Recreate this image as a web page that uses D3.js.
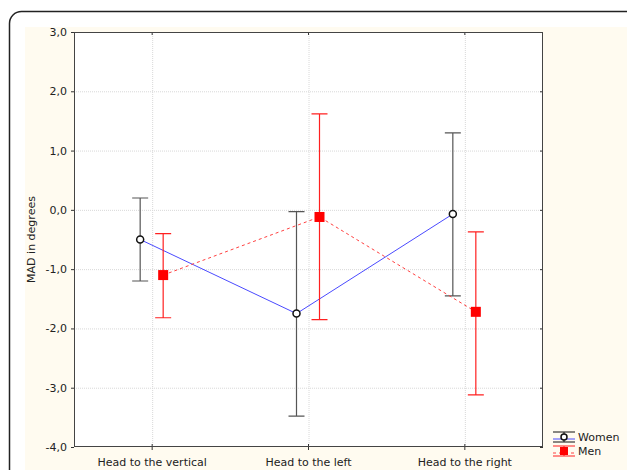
<!DOCTYPE html>
<html>
<head>
<meta charset="utf-8">
<script src="https://cdn.jsdelivr.net/npm/d3@7"></script>
<style>
  body { margin: 0; background: #fff; }
  text { font-family: "DejaVu Sans", Verdana, sans-serif; font-size: 11px; fill: #222; }
</style>
</head>
<body>
<script>
// categories and series values (MAD in degrees)
const categories = ["Head to the vertical", "Head to the left", "Head to the right"];
const womenMean = [-0.5, -1.75, -0.07];
const womenLow = [-1.2, -3.48, -1.45];
const womenHigh = [0.2, -0.03, 1.3];
const menMean = [-1.1, -0.12, -1.72];
const menLow = [-1.82, -1.85, -3.12];
const menHigh = [-0.4, 1.62, -0.37];
const yTicks = [3, 2, 1, 0, -1, -2, -3, -4];

const W = 627, H = 470;
const plot = { left: 74, right: 543, top: 32, bottom: 447 };

const svg = d3.select("body").append("svg")
  .attr("width", W).attr("height", H);

// outer rounded frame and cream panel
svg.append("rect")
  .attr("x", 9.5).attr("y", 11.5)
  .attr("width", W + 30).attr("height", H + 30)
  .attr("rx", 12)
  .attr("fill", "#fff").attr("stroke", "#222").attr("stroke-width", 1.5);
svg.append("rect")
  .attr("x", 25).attr("y", 27)
  .attr("width", W - 25).attr("height", H - 27)
  .attr("fill", "#fffbf0");

const x = d3.scaleBand().domain(categories).range([plot.left, plot.right]);
const y = d3.scaleLinear().domain([-4, 3]).range([plot.bottom, plot.top]);
const cx = c => x(c) + x.bandwidth() / 2;

// plot area
svg.append("rect")
  .attr("x", plot.left).attr("y", plot.top)
  .attr("width", plot.right - plot.left).attr("height", plot.bottom - plot.top)
  .attr("fill", "#fff");

// grid
const grid = svg.append("g").attr("stroke", "#d8d8d8").attr("stroke-dasharray", "1,1");
grid.selectAll(".gy").data(yTicks.slice(1, -1)).enter().append("line")
  .attr("x1", plot.left).attr("x2", plot.right)
  .attr("y1", d => y(d) + 0.5).attr("y2", d => y(d) + 0.5);
grid.selectAll(".gx").data(categories).enter().append("line")
  .attr("y1", plot.top).attr("y2", plot.bottom)
  .attr("x1", d => cx(d) + 0.5).attr("x2", d => cx(d) + 0.5);

// axes
const yAxis = d3.axisLeft(y).tickValues(yTicks).tickSize(3).tickPadding(4)
  .tickFormat(d => d3.format(".1f")(d).replace(".", ",").replace("−", "-"));
svg.append("g").attr("transform", `translate(${plot.left},0)`).call(yAxis)
  .call(g => g.select(".domain").remove());
svg.append("g").attr("transform", `translate(${plot.right},0)`)
  .call(d3.axisLeft(y).tickValues(yTicks).tickSize(3).tickFormat(""))
  .call(g => g.select(".domain").remove());

const xAxis = d3.axisBottom(x).tickSize(3).tickPadding(8);
svg.append("g").attr("transform", `translate(0,${plot.bottom})`).call(d3.axisTop(x).tickSize(3).tickFormat(""))
  .call(g => g.select(".domain").remove());
svg.append("g").attr("transform", `translate(0,${plot.bottom})`).call(xAxis)
  .call(g => g.select(".domain").remove());
svg.append("g").attr("transform", `translate(0,${plot.top})`).call(d3.axisBottom(x).tickSize(3).tickFormat(""))
  .call(g => g.select(".domain").remove());
svg.selectAll(".tick line").attr("stroke", "#333");
svg.selectAll(".tick text").style("font-size", "11px").attr("fill", "#222")
  .style("font-family", "'DejaVu Sans', Verdana, sans-serif");

svg.append("rect")
  .attr("x", plot.left + 0.5).attr("y", plot.top + 0.5)
  .attr("width", plot.right - plot.left - 1).attr("height", plot.bottom - plot.top - 1)
  .attr("fill", "none").attr("stroke", "#444");

svg.append("text")
  .attr("transform", `translate(35,${(plot.top + plot.bottom) / 2}) rotate(-90)`)
  .attr("text-anchor", "middle")
  .text("MAD in degrees");

// series
const series = [
  { name: "Women", mean: womenMean, low: womenLow, high: womenHigh, dx: -12,
    line: "#4a4aff", bar: "#555", dash: null },
  { name: "Men", mean: menMean, low: menLow, high: menHigh, dx: 11,
    line: "#ff4040", bar: "#ff2020", dash: "3,3" }
];

series.forEach(s => {
  const pts = categories.map((c, i) => ({ x: cx(c) + s.dx, m: s.mean[i], lo: s.low[i], hi: s.high[i] }));
  const g = svg.append("g");
  g.append("path")
    .datum(pts)
    .attr("fill", "none").attr("stroke", s.line).attr("stroke-width", 1)
    .attr("stroke-dasharray", s.dash)
    .attr("d", d3.line().x(d => d.x).y(d => y(d.m)));
  g.selectAll(".eb").data(pts).enter().append("path")
    .attr("fill", "none").attr("stroke", s.bar).attr("stroke-width", 1.2)
    .attr("d", d => `M${d.x},${y(d.lo)}V${y(d.hi)}M${d.x - 8},${y(d.lo)}H${d.x + 8}M${d.x - 8},${y(d.hi)}H${d.x + 8}`);
  if (s.name === "Women") {
    g.selectAll(".mk").data(pts).enter().append("circle")
      .attr("cx", d => d.x).attr("cy", d => y(d.m)).attr("r", 3.5)
      .attr("fill", "#fff").attr("stroke", "#111").attr("stroke-width", 1.5);
  } else {
    g.selectAll(".mk").data(pts).enter().append("rect")
      .attr("x", d => d.x - 5).attr("y", d => y(d.m) - 5)
      .attr("width", 10).attr("height", 10).attr("fill", "#ff0000");
  }
});

// legend
const leg = svg.append("g").attr("transform", "translate(564,437)");
series.forEach((s, i) => {
  const g = leg.append("g").attr("transform", `translate(0,${i * 14})`);
  const c = s.name === "Women" ? "#111" : "#ff2020";
  g.append("line").attr("x1", -11).attr("x2", 11).attr("y1", -5).attr("y2", -5).attr("stroke", c);
  g.append("line").attr("x1", -11).attr("x2", 11).attr("y1", 5).attr("y2", 5).attr("stroke", c);
  g.append("line").attr("x1", -11).attr("x2", 11).attr("y1", 2).attr("y2", 2)
    .attr("stroke", s.line).attr("stroke-dasharray", s.dash);
  g.append("line").attr("x1", 0).attr("x2", 0).attr("y1", -5).attr("y2", 5).attr("stroke", c);
  if (s.name === "Women") {
    g.append("circle").attr("r", 3).attr("fill", "#fff").attr("stroke", "#111").attr("stroke-width", 1.5);
  } else {
    g.append("rect").attr("x", -4).attr("y", -4).attr("width", 8).attr("height", 8).attr("fill", "#ff0000");
  }
  g.append("text").attr("x", 14).attr("y", 4).text(s.name);
});
</script>
</body>
</html>
